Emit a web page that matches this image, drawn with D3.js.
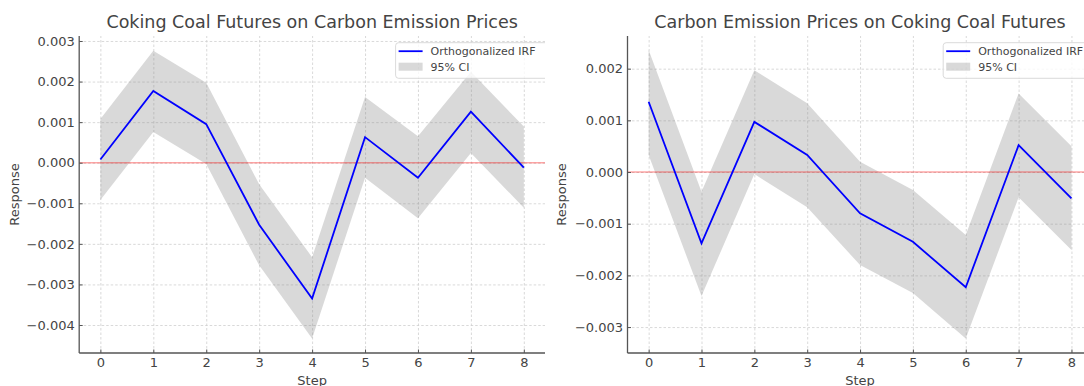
<!DOCTYPE html>
<html>
<head>
<meta charset="utf-8">
<script src="https://cdn.jsdelivr.net/npm/d3@7"></script>
<style>
    body { margin: 0; background: #fff; }
    svg { display: block; font-family: "DejaVu Sans", sans-serif; }
</style>
</head>
<body>
<svg id="chart" width="1084" height="386"></svg>
<script>
// Impulse response steps
const steps = [0, 1, 2, 3, 4, 5, 6, 7, 8];

// Panel 1: Coking Coal Futures on Carbon Emission Prices
const coalOnCarbonIrf = [0.00008, 0.00177, 0.00095, -0.00153, -0.00335, 0.00063, -0.00037, 0.00126, -0.00012];
const coalOnCarbonLower = [-0.00092, 0.00076, -0.00003, -0.00253, -0.00433, -0.00037, -0.00137, 0.00024, -0.00111];
const coalOnCarbonUpper = [0.00108, 0.00276, 0.00197, -0.00053, -0.00233, 0.00162, 0.00065, 0.00224, 0.00089];

// Panel 2: Carbon Emission Prices on Coking Coal Futures
const carbonOnCoalIrf = [0.00136, -0.00138, 0.00097, 0.00033, -0.00080, -0.00135, -0.00223, 0.00052, -0.00051];
const carbonOnCoalLower = [0.00033, -0.00240, -0.00004, -0.00068, -0.00180, -0.00234, -0.00322, -0.00049, -0.00151];
const carbonOnCoalUpper = [0.00236, -0.00038, 0.00197, 0.00133, 0.00020, -0.00035, -0.00122, 0.00152, 0.00050];

const titles = [
    'Coking Coal Futures on Carbon Emission Prices',
    'Carbon Emission Prices on Coking Coal Futures',
];
const yTicksLeft = [0.003, 0.002, 0.001, 0, -0.001, -0.002, -0.003, -0.004];
const yTicksRight = [0.002, 0.001, 0, -0.001, -0.002, -0.003];
const yLimitsLeft = [-0.00469, 0.003123];
const yLimitsRight = [-0.003502, 0.002632];
const legendLabels = ['Orthogonalized IRF', '95% CI'];

const textColor = '#444';
const spineColor = '#555';

const svg = d3.select('#chart');

const drawPanel = ({ id, left, right, irf, lower, upper, yTicks, yLimits, title, ylabelX, clipRight }) => {
    const top = 36;
    const bottom = 353;

    const xScale = d3.scaleLinear().domain([-0.4, 8.4]).range([left, right]);
    const yScale = d3.scaleLinear().domain(yLimits).range([bottom, top]);

    svg.append('clipPath')
        .attr('id', `clip-${id}`)
        .append('rect')
        .attr('x', 0)
        .attr('y', 0)
        .attr('width', clipRight)
        .attr('height', 386);

    const g = svg.append('g').attr('clip-path', `url(#clip-${id})`);

    // Dashed grid
    const xGrid = g.append('g')
        .attr('transform', `translate(0,${bottom})`)
        .call(d3.axisBottom(xScale).tickValues(steps).tickSize(-(bottom - top)).tickFormat(''));
    xGrid.select('.domain').remove();
    const yGrid = g.append('g')
        .attr('transform', `translate(${left},0)`)
        .call(d3.axisLeft(yScale).tickValues(yTicks).tickSize(-(right - left)).tickFormat(''));
    yGrid.select('.domain').remove();
    g.selectAll('.tick line')
        .attr('stroke', '#cfcfcf')
        .attr('stroke-width', 0.8)
        .attr('stroke-dasharray', '2.5,2');

    // Confidence band
    const area = d3.area()
        .x((d, i) => xScale(steps[i]))
        .y0((d, i) => yScale(lower[i]))
        .y1((d) => yScale(d));
    g.append('path')
        .attr('d', area(upper))
        .attr('fill', 'gray')
        .attr('fill-opacity', 0.3);

    // Zero reference line
    g.append('line')
        .attr('x1', left)
        .attr('x2', right)
        .attr('y1', yScale(0))
        .attr('y2', yScale(0))
        .attr('stroke', 'red')
        .attr('stroke-opacity', 0.35)
        .attr('stroke-width', 1.5);

    // IRF line
    const line = d3.line()
        .x((d, i) => xScale(steps[i]))
        .y((d) => yScale(d));
    g.append('path')
        .attr('d', line(irf))
        .attr('fill', 'none')
        .attr('stroke', 'blue')
        .attr('stroke-width', 1.8);

    // Axes (left + bottom spines, inward ticks)
    const xAxis = g.append('g')
        .attr('transform', `translate(0,${bottom})`)
        .call(d3.axisBottom(xScale).tickValues(steps).tickSize(-3.5).tickPadding(5).tickFormat(d3.format('d')));
    const yAxis = g.append('g')
        .attr('transform', `translate(${left},0)`)
        .call(d3.axisLeft(yScale).tickValues(yTicks).tickSize(-3.5).tickPadding(4.5).tickFormat(d3.format('.3f')));
    [xAxis, yAxis].forEach((ax) => {
        ax.select('.domain')
            .attr('stroke', spineColor)
            .attr('stroke-width', 1.3);
        ax.selectAll('.tick line')
            .attr('stroke', spineColor)
            .attr('stroke-width', 1)
            .attr('stroke-dasharray', null);
        ax.selectAll('text')
            .attr('fill', textColor)
            .attr('font-size', '13px')
            .attr('font-family', '"DejaVu Sans", sans-serif');
    });
    // only the spines, no end caps
    xAxis.select('.domain').attr('d', `M${left},0H${right}`);
    yAxis.select('.domain').attr('d', `M0,${bottom}V${top}`);

    // Title and axis labels
    g.append('text')
        .attr('x', (left + right) / 2)
        .attr('y', 27.5)
        .attr('text-anchor', 'middle')
        .attr('fill', textColor)
        .attr('font-size', '17.5px')
        .text(title);
    g.append('text')
        .attr('x', (left + right) / 2)
        .attr('y', 384.5)
        .attr('text-anchor', 'middle')
        .attr('fill', textColor)
        .attr('font-size', '13px')
        .text('Step');
    g.append('text')
        .attr('transform', `translate(${ylabelX},${(top + bottom) / 2}) rotate(-90)`)
        .attr('text-anchor', 'middle')
        .attr('fill', textColor)
        .attr('font-size', '13px')
        .text('Response');

    // Legend (box runs past the cropped edge, as in the source)
    const lx = right - 149.4;
    const legend = g.append('g').attr('transform', `translate(${lx},42.7)`);
    legend.append('rect')
        .attr('width', 156)
        .attr('height', 35.6)
        .attr('rx', 3)
        .attr('fill', 'white')
        .attr('fill-opacity', 0.8)
        .attr('stroke', '#d0d0d0')
        .attr('stroke-width', 0.8);
    legend.append('line')
        .attr('x1', 3)
        .attr('x2', 27)
        .attr('y1', 8.5)
        .attr('y2', 8.5)
        .attr('stroke', 'blue')
        .attr('stroke-width', 1.8);
    legend.append('rect')
        .attr('x', 3)
        .attr('y', 20)
        .attr('width', 24)
        .attr('height', 8)
        .attr('fill', 'gray')
        .attr('fill-opacity', 0.3);
    legend.selectAll('text.item')
        .data(legendLabels)
        .join('text')
        .attr('class', 'item')
        .attr('x', 35)
        .attr('y', (d, i) => (i === 0 ? 8.5 : 24))
        .attr('dy', '0.36em')
        .attr('fill', textColor)
        .attr('font-size', '11px')
        .text((d) => d);
};

drawPanel({
    id: 'a',
    left: 79.2,
    right: 545,
    irf: coalOnCarbonIrf,
    lower: coalOnCarbonLower,
    upper: coalOnCarbonUpper,
    yTicks: yTicksLeft,
    yLimits: yLimitsLeft,
    title: titles[0],
    ylabelX: 19,
    clipRight: 545,
});

drawPanel({
    id: 'b',
    left: 627.5,
    right: 1092.6,
    irf: carbonOnCoalIrf,
    lower: carbonOnCoalLower,
    upper: carbonOnCoalUpper,
    yTicks: yTicksRight,
    yLimits: yLimitsRight,
    title: titles[1],
    ylabelX: 565.5,
    clipRight: 1084,
});
</script>
</body>
</html>
